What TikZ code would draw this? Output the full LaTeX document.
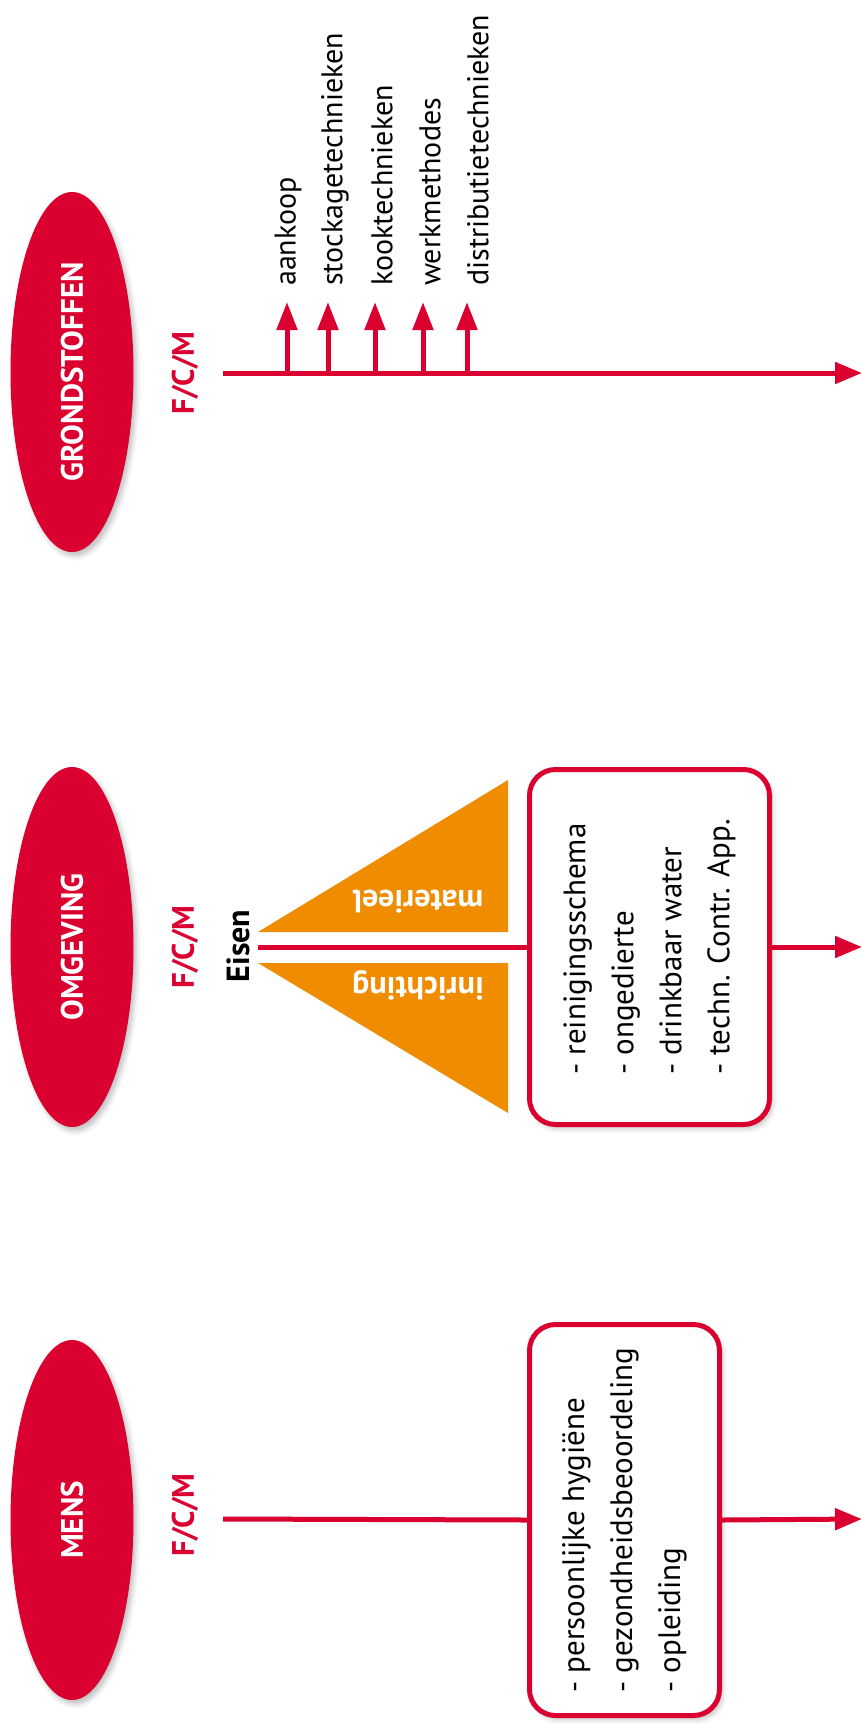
\documentclass[tikz,border=0pt]{standalone}
\usepackage{fontspec}
\setmainfont{PT Sans}
\usepackage{tikz}
\usetikzlibrary{arrows.meta,shapes,positioning,calc,shadows.blur}
\definecolor{fcmred}{RGB}{218,0,48}
\definecolor{eisenorange}{RGB}{240,140,0}
\tikzset{
  softshadow/.style={blur shadow={shadow xshift=3pt, shadow yshift=-4pt, shadow blur radius=5pt, shadow opacity=25}},
  fcmline/.style={fcmred, line width=5pt},
  fcmarrow/.style={fcmline, -{Triangle[length=27pt,width=21pt]}},
  blob/.style={ellipse, fill=fcmred, rotate=90, minimum width=360pt, minimum height=123pt,
    inner sep=0pt, text=white, font=\fontsize{31}{36}\selectfont\bfseries, softshadow},
  fcmlabel/.style={rotate=90, text=fcmred, inner sep=0pt, font=\fontsize{31}{36}\selectfont\bfseries},
  itemlabel/.style={rotate=90, anchor=west, inner sep=0pt, font=\fontsize{30}{34}\selectfont},
  listbox/.style={draw=fcmred, line width=5pt, rounded corners=26pt, fill=white, rotate=90,
    align=left, inner sep=0pt, font=\fontsize{31}{48}\selectfont, softshadow},
  tritext/.style={rotate=180, text=white, inner sep=0pt, font=\fontsize{32}{36}\selectfont\bfseries}
}

\begin{document}
\begin{tikzpicture}[x=1pt,y=-1pt]
\useasboundingbox (0,0) rectangle (862,1724);

% Grondstoffen
\node[blob] (grond) at (72,372) {GRONDSTOFFEN};
\node[fcmlabel] (fcmgrond) at (185,373) {F/C/M};
\coordinate (grondstart) at (223,373);
\coordinate (grondend) at (862,373);
\draw[fcmarrow] (grondstart) -- (grondend);
\foreach \x/\dx/\txt [count=\i] in {287/1/aankoop, 328/7/stockagetechnieken,
    375/7/kooktechnieken, 423/7/werkmethodes, 467/11/distributietechnieken} {
  \coordinate (foot\i) at (\x,373);
  \coordinate (tip\i) at (\x,302);
  \draw[fcmline, -{Triangle[length=28pt,width=20pt]}] (foot\i) -- (tip\i);
  \node[itemlabel] (item\i) at (\x+\dx,286) {\txt};
}

% Omgeving
\node[blob] (omg) at (72,947) {OMGEVING};
\node[fcmlabel] (fcmomg) at (185,947) {F/C/M};
\node[rotate=90, inner sep=0pt, font=\fontsize{32}{36}\selectfont\bfseries] (eisen) at (238,946) {Eisen};
\fill[eisenorange] (258,932) -- (508,780) -- (508,932) -- cycle;
\fill[eisenorange] (258,963) -- (508,963) -- (508,1113) -- cycle;
\node[tritext] (materieel) at (418,902) {materieel};
\node[tritext] (inrichting) at (418,985) {inrichting};
\node[listbox, minimum width=355pt, minimum height=240pt] (omgbox) at (649.5,947)
  {- reinigingsschema\\- ongedierte\\- drinkbaar water\\- techn. Contr. App.};
\coordinate (eisenstart) at (258,947);
\coordinate (omgend) at (862,947);
\draw[fcmline] (eisenstart) -- (omgbox.north);
\draw[fcmarrow] (omgbox.south) -- (omgend);

% Mens
\node[blob] (mens) at (72,1520) {MENS};
\node[fcmlabel] (fcmmens) at (185,1515) {F/C/M};
\node[listbox, minimum width=391pt, minimum height=190pt] (mensbox) at (624.5,1520)
  {- persoonlijke hygiëne\\- gezondheidsbeoordeling\\- opleiding};
\coordinate (mensstart) at (223,1519);
\coordinate (mensend) at (862,1519);
\draw[fcmline] (mensstart) -- (mensbox.north);
\draw[fcmarrow] (mensbox.south) -- (mensend);
\end{tikzpicture}
\end{document}
